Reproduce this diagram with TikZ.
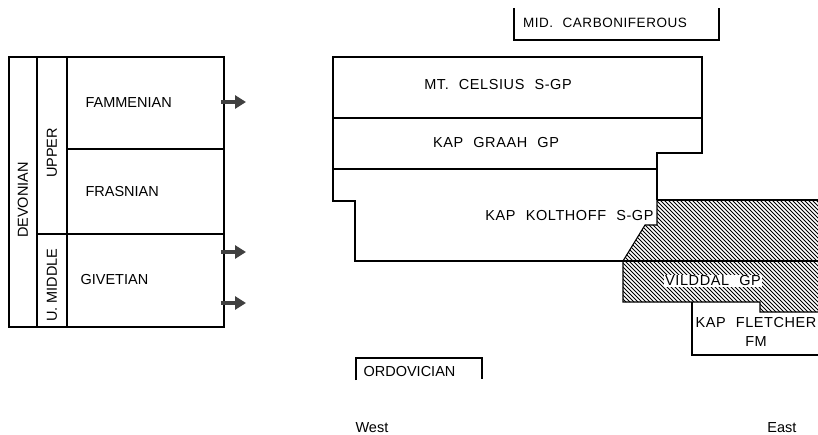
\documentclass[tikz,border=0pt]{standalone}
\usepackage{fontspec}
\setmainfont{Liberation Sans}
\newfontfamily\widefont{Liberation Sans}[LetterSpace=4,WordSpace=2.2]
\usepackage{tikz}
\usetikzlibrary{arrows.meta}

\begin{document}
\begin{tikzpicture}[x=1pt,y=-1pt,line width=1.1pt,
  lbl/.style={font=\fontsize{14.5}{19}\selectfont,inner sep=0pt},
  unit/.style={font=\widefont\fontsize{14.5}{19}\selectfont,inner sep=0pt},
  arr/.style={line width=4.5pt,draw=black!75,-{Triangle[length=11pt,width=13pt]}}]
\useasboundingbox (0,0) rectangle (818,435);
%左边年代表
\draw (9,57) rectangle (224,327);
\draw (37,57)--(37,327);
\draw (67,57)--(67,327);
\draw (67,149)--(224,149);
\draw (37,234)--(224,234);
\node[lbl,rotate=90] (dev) at (23,200) {DEVONIAN};
\node[lbl,rotate=90] (upper) at (52,153) {UPPER};
\node[lbl,rotate=90] (umid) at (52,285) {U. MIDDLE};
\node[lbl,anchor=west] (fam) at (85,103) {FAMMENIAN};
\node[lbl,anchor=west] (fra) at (85,192) {FRASNIAN};
\node[lbl,anchor=west] (giv) at (80,280) {GIVETIAN};

%箭头
\coordinate (a1) at (221,102);
\coordinate (b1) at (246,102);
\coordinate (a2) at (221,252);
\coordinate (b2) at (246,252);
\coordinate (a3) at (221,303);
\coordinate (b3) at (246,303);
\draw[arr] (a1)--(b1);
\draw[arr] (a2)--(b2);
\draw[arr] (a3)--(b3);

%顶部 石炭系
\draw (514,8)--(514,40)--(719,40)--(719,8);
\node[unit,font=\widefont\fontsize{13.5}{19}\selectfont] (carb) at (605,23) {MID. CARBONIFEROUS};

%上部两层
\draw (333,169)--(333,57)--(702,57)--(702,153)--(657,153)--(657,200);
\draw (333,118)--(702,118);
\draw (333,169)--(657,169);
\node[unit] (cels) at (498,85) {MT. CELSIUS S-GP};
\node[unit] (graah) at (496,143) {KAP GRAAH GP};

%Kolthoff层
\draw (333,169)--(333,201)--(355,201)--(355,261)--(623,261);

%Vilddal 斜线区
\begin{scope}
\clip (657,200)--(818,200)--(818,312)--(760,312)--(760,302)--(623,302)--(623,261)--(645,225)--(657,225)--cycle;
\foreach \a in {490,494,...,820}
  \draw[line width=1pt] (\a,190)--++(130,130);
\end{scope}
\draw (657,200)--(818,200);
\draw (657,200)--(657,225)--(645,225)--(623,261)--(623,302)--(760,302)--(760,312)--(818,312);
\draw (623,261)--(818,261);
\node[unit,anchor=east,fill=white,inner sep=1pt] (kolt) at (655,216) {KAP KOLTHOFF S-GP};
\node[unit,fill=white,inner sep=1pt] (vild) at (713,281) {VILDDAL GP};

%Kap Fletcher
\draw (692,302)--(692,355)--(818,355);
\node[unit,align=center] (flet) at (756,332) {KAP FLETCHER\\FM};

%奥陶系
\draw (356,380)--(356,358)--(482,358)--(482,379);
\node[lbl,anchor=west] (ord) at (363,372) {ORDOVICIAN};

%方向
\node[lbl,anchor=west] (west) at (355,428) {West};
\node[lbl,anchor=east] (east) at (797,428) {East};
\end{tikzpicture}
\end{document}
